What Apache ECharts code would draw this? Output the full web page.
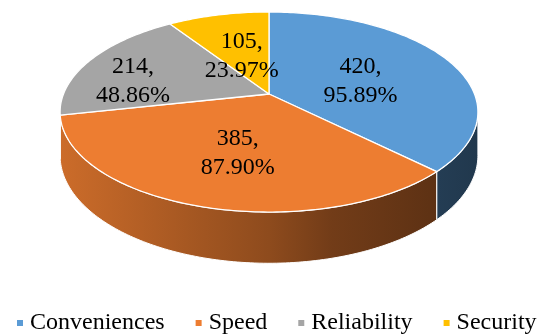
<!DOCTYPE html>
<html>
<head>
<meta charset="utf-8">
<script src="https://cdn.jsdelivr.net/npm/echarts@6/dist/echarts.min.js"></script>
<style>
html,body{margin:0;padding:0;background:#fff;}
#chart{width:538px;height:334px;}
</style>
</head>
<body>
<div id="chart"></div>
<script>
// ---- data ----
const categories = ['Conveniences', 'Speed', 'Reliability', 'Security'];
const values = [420, 385, 214, 105];
const percentLabels = ['95.89%', '87.90%', '48.86%', '23.97%'];
const colors = ['#5B9BD5', '#ED7D31', '#A5A5A5', '#FFC000'];
// layout config for labels: distance from centre (fraction of radius) and extra vertical nudge
const labelRadius = [0.5, 0.5, 0.75, 0.5];
const labelNudge = [5, 8, 13, 5];

const FONT = '"Liberation Serif", "Times New Roman", serif';
const G = { cx: 269, cy: 94, a: 205.5, b: 96.8, p: 0.18, d: 42 };
const total = values.reduce((s, v) => s + v, 0);
const cum = [0];
values.forEach((v, i) => cum.push(cum[i] + v));
const TWO_PI = Math.PI * 2;

function proj(phi, r) {
  const s = 1 / (1 + G.p * r * Math.cos(phi));
  return [G.cx + G.a * r * Math.sin(phi) * s, G.cy - G.b * r * Math.cos(phi) * s, s];
}
function hexToRgb(h) {
  const n = parseInt(h.slice(1), 16);
  return [(n >> 16) & 255, (n >> 8) & 255, n & 255];
}
function shade(hex, f) {
  const c = hexToRgb(hex).map(v => Math.round(v * f));
  return 'rgb(' + c.join(',') + ')';
}
// side darkness across the width (left -> right)
const shadeStops = [[0, 0.86], [0.5, 0.6], [0.65, 0.48], [1, 0.36]];
function sideGradient(hex) {
  return {
    type: 'linear', x: G.cx - G.a * 1.02, y: 0, x2: G.cx + G.a * 1.02, y2: 0, global: true,
    colorStops: shadeStops.map(s => ({ offset: s[0], color: shade(hex, s[1]) }))
  };
}

function angleRange(idx) {
  return [cum[idx] / total * TWO_PI, cum[idx + 1] / total * TWO_PI];
}

function renderSide(params, api) {
  const idx = params.dataIndex;
  const [st, en] = angleRange(idx);
  const lo = Math.acos(-G.p), hi = TWO_PI - lo;
  const a = Math.max(st, lo), b = Math.min(en, hi);
  if (a >= b) return { type: 'group', children: [] };
  const n = Math.max(2, Math.ceil((b - a) / (Math.PI / 180)));
  const top = [], bottom = [];
  for (let k = 0; k <= n; k++) {
    const phi = a + (b - a) * k / n;
    const p = proj(phi, 1);
    top.push([p[0], p[1]]);
    bottom.push([p[0], p[1] + G.d * p[2]]);
  }
  const pts = top.concat(bottom.reverse());
  return {
    type: 'polygon',
    shape: { points: pts },
    style: { fill: sideGradient(colors[idx]), stroke: '#ffffff', lineWidth: 1 }
  };
}

function renderTop(params, api) {
  const idx = params.dataIndex;
  const [st, en] = angleRange(idx);
  const n = Math.max(2, Math.ceil((en - st) / (Math.PI / 180)));
  const pts = [[G.cx, G.cy]];
  for (let k = 0; k <= n; k++) {
    const p = proj(st + (en - st) * k / n, 1);
    pts.push([p[0], p[1]]);
  }
  const mid = (st + en) / 2;
  const lp = proj(mid, labelRadius[idx]);
  const txt = api.value(0) + ',\n' + percentLabels[idx];
  return {
    type: 'group',
    children: [
      {
        type: 'polygon',
        shape: { points: pts },
        style: { fill: colors[idx], stroke: '#ffffff', lineWidth: 1.3, lineJoin: 'round' }
      },
      {
        type: 'text',
        x: lp[0], y: lp[1] + labelNudge[idx],
        z2: 10,
        style: {
          text: txt, font: '24px ' + FONT, fill: '#000000',
          align: 'center', verticalAlign: 'middle',
          textAlign: 'center', textVerticalAlign: 'middle', lineHeight: 29
        }
      }
    ]
  };
}

const chart = echarts.init(document.getElementById('chart'), null, { renderer: 'canvas' });
chart.setOption({
  animation: false,
  backgroundColor: '#ffffff',
  color: colors,
  legend: {
    data: categories,
    left: 17,
    right: 0,
    top: 311,
    padding: 0,
    itemWidth: 6,
    itemHeight: 6,
    itemGap: 31,
    icon: 'rect',
    textStyle: { fontFamily: FONT, fontSize: 24, color: '#000000', padding: [0, 0, 0, 2] }
  },
  series: [
    {
      // legend provider (kept off-canvas)
      type: 'pie',
      name: 'legend',
      silent: true,
      center: [-5000, -5000],
      radius: [0, 1],
      label: { show: false },
      labelLine: { show: false },
      data: categories.map((c, i) => ({ name: c, value: values[i], itemStyle: { color: colors[i] } }))
    },
    {
      type: 'custom',
      name: 'sides',
      coordinateSystem: 'none',
      silent: true,
      z: 1,
      renderItem: renderSide,
      data: values
    },
    {
      type: 'custom',
      name: 'tops',
      coordinateSystem: 'none',
      silent: true,
      z: 2,
      renderItem: renderTop,
      data: values
    }
  ]
});
</script>
</body>
</html>
